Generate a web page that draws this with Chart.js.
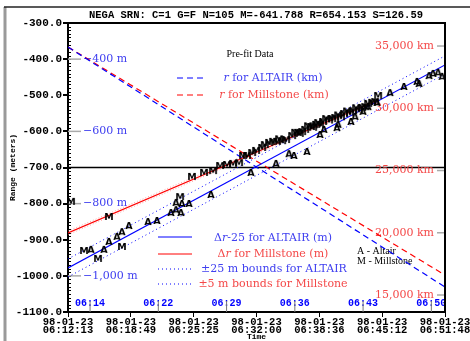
<!DOCTYPE html>
<html>
<head>
<meta charset="utf-8">
<script src="https://cdn.jsdelivr.net/npm/chart.js@4.4.1/dist/chart.umd.min.js"></script>
<style>
  body { margin: 0; background: #fff; }
  #wrap { width: 470px; height: 341px; }
</style>
</head>
<body>
<div id="wrap"><canvas id="myChart" width="470" height="341"></canvas></div>
<script>
// time axis: seconds after 06:12:13
const tickDate = "98-01-23";
const xTickLabels = ["06:12:13", "06:18:49", "06:25:25", "06:32:00", "06:38:36", "06:45:12", "06:51:48"];
const xSpan = 2375;
const blueTickT = [139, 569, 999, 1429, 1859, 2289];
const blueTickLabels = ["06:14", "06:22", "06:29", "06:36", "06:43", "06:50"];

const mLabelValues = [-400, -600, -800, -1000];
const mLabels = ["\u2212400 m", "\u2212600 m", "\u2212800 m", "\u22121,000 m"];
const kmLabelValues = [35000, 30000, 25000, 20000, 15000];
const kmLabels = ["35,000 km", "30,000 km", "25,000 km", "20,000 km", "15,000 km"];

// range in km
const altairKmT = [0, 2375];
const altairKm = [34920, 15640];
const millKmT = [0, 2375];
const millKm = [34920, 16600];

// fitted residual lines (m)
const altairFitT = [0, 2375];
const altairFit = [-978, -416];
const millFitT = [0, 1954];
const millFit = [-881, -513];
const altairBound = 25;
const millBound = 5;

// pre-fit data
const millT = [19, 101, 189, 258, 340, 706, 781, 857, 914, 958, 1002, 1040, 1078, 1103, 1128, 1160, 1185, 1223, 1240, 1267, 1292, 1317, 1330, 1349, 1374, 1412, 1431, 1449, 1460, 1475, 1494, 1512, 1531, 1544, 1563, 1576, 1588, 1607, 1626, 1645, 1664, 1683, 1702, 1720, 1739, 1758, 1777, 1796, 1815, 1834, 1853, 1872, 1891, 1916, 1935, 1954];
const millR = [-795, -931, -953, -837, -920, -782, -726, -715, -710, -696, -693, -690, -688, -668, -668, -660, -654, -646, -638, -632, -629, -629, -622, -627, -624, -613, -604, -604, -607, -602, -596, -586, -588, -590, -582, -577, -583, -574, -566, -570, -566, -563, -556, -561, -552, -545, -550, -544, -536, -542, -535, -533, -524, -521, -519, -502];
const altT = [145, 227, 258, 309, 340, 384, 504, 561, 649, 681, 712, 681, 718, 763, 901, 1153, 1311, 1393, 1424, 1506, 1588, 1613, 1695, 1702, 1783, 1809, 1859, 1891, 1947, 2029, 2117, 2199, 2212, 2275, 2300, 2332, 2357];
const altR = [-928, -928, -906, -892, -879, -862, -851, -848, -826, -818, -826, -798, -801, -801, -776, -715, -690, -663, -668, -657, -610, -596, -591, -582, -574, -560, -546, -533, -521, -494, -477, -463, -469, -447, -441, -438, -449];

const blue = "#0000ff";
const red = "#ff0000";
const blueText = "#4040f0";
const redText = "#f44848";
const mono = "'Liberation Mono', monospace";
const serif = "'DejaVu Serif', serif";

const pts = (xs, ys) => xs.map((x, i) => ({ x: x, y: ys[i] }));
const shift = (xs, ys, d) => xs.map((x, i) => ({ x: x, y: ys[i] + d }));

function letterImg(ch) {
  const c = document.createElement("canvas");
  c.width = 10; c.height = 10;
  const g = c.getContext("2d");
  g.font = "bold 9.5px 'DejaVu Sans'";
  g.textAlign = "center";
  g.textBaseline = "middle";
  g.fillStyle = "#000";
  g.fillText(ch, 5, 5.5);
  return c;
}

function lineSet(data, color, dash, width, axis) {
  return {
    data: data, showLine: true, borderColor: color, borderWidth: width || 1,
    borderDash: dash || [], pointRadius: 0, yAxisID: axis || "y", fill: false
  };
}

function richText(ctx, parts, cx, y, color) {
  let w = 0;
  parts.forEach(p => { ctx.font = (p[1] || "") + " 11px " + serif; w += ctx.measureText(p[0]).width; });
  let x = cx - w / 2;
  ctx.fillStyle = color;
  ctx.textAlign = "left";
  ctx.textBaseline = "middle";
  parts.forEach(p => { ctx.font = (p[1] || "") + " 11px " + serif; ctx.fillText(p[0], x, y); x += ctx.measureText(p[0]).width; });
}

function sample(ctx, x1, x2, y, color, dash) {
  ctx.save();
  ctx.strokeStyle = color;
  ctx.lineWidth = 1;
  ctx.setLineDash(dash);
  ctx.beginPath(); ctx.moveTo(x1, y); ctx.lineTo(x2, y); ctx.stroke();
  ctx.restore();
}

const decor = {
  id: "decor",
  beforeDatasetsDraw(chart) {
    const { ctx, chartArea: a, scales } = chart;
    const y = scales.y, yk = scales.yk, x = scales.x;
    ctx.save();
    // minor ticks on left axis
    ctx.strokeStyle = "#000"; ctx.lineWidth = 1;
    for (let v = -1100; v <= -300; v += 10) {
      const py = Math.round(y.getPixelForValue(v)) + 0.5;
      ctx.beginPath(); ctx.moveTo(a.left, py); ctx.lineTo(a.left + 3, py); ctx.stroke();
    }
    // -700 line
    ctx.lineWidth = 1.6;
    ctx.beginPath(); ctx.moveTo(a.left, y.getPixelForValue(-700)); ctx.lineTo(a.right, y.getPixelForValue(-700)); ctx.stroke();

    // metre labels
    ctx.font = "11px " + serif;
    ctx.textBaseline = "middle";
    mLabelValues.forEach((v, i) => {
      const py = y.getPixelForValue(v);
      ctx.strokeStyle = "#aaa"; ctx.lineWidth = 1.5;
      ctx.beginPath(); ctx.moveTo(a.left, py); ctx.lineTo(a.left + 13, py); ctx.stroke();
      ctx.fillStyle = blueText; ctx.textAlign = "left";
      ctx.fillText(mLabels[i], a.left + 15, py);
    });
    // km labels
    kmLabelValues.forEach((v, i) => {
      const py = yk.getPixelForValue(v);
      ctx.strokeStyle = "#aaa"; ctx.lineWidth = 1.5;
      ctx.beginPath(); ctx.moveTo(a.right - 8, py); ctx.lineTo(a.right, py); ctx.stroke();
      ctx.fillStyle = redText; ctx.textAlign = "right";
      ctx.fillText(kmLabels[i], a.right - 11, py);
    });
    // blue time labels
    ctx.font = "bold 10px " + mono;
    blueTickT.forEach((t, i) => {
      const px = x.getPixelForValue(t);
      ctx.fillStyle = blue; ctx.textAlign = "center";
      ctx.fillText(blueTickLabels[i], px, a.bottom - 9);
      ctx.strokeStyle = "#777"; ctx.lineWidth = 1;
      ctx.beginPath(); ctx.moveTo(px, a.bottom - 11); ctx.lineTo(px, a.bottom); ctx.stroke();
    });

    // legend texts
    ctx.fillStyle = "#000"; ctx.textAlign = "center";
    ctx.font = "10px 'Liberation Serif'";
    ctx.fillText("Pre-fit Data", 250, 54);
    ctx.textAlign = "left";
    ctx.fillText("A - Altair", 357, 251);
    ctx.fillText("M - Millstone", 357, 261);

    sample(ctx, 177, 205, 78, blue, [6, 4]);
    sample(ctx, 177, 205, 95, red, [6, 4]);
    richText(ctx, [["r", "italic"], [" for ALTAIR (km)"]], 273, 78, blueText);
    richText(ctx, [["r", "italic"], [" for Millstone (km)"]], 274, 95, redText);

    sample(ctx, 158, 192, 237, blue, []);
    sample(ctx, 158, 192, 254, red, []);
    sample(ctx, 158, 192, 269, blue, [1, 3]);
    sample(ctx, 158, 192, 284, blue, [1, 3]);
    richText(ctx, [["\u0394"], ["r", "italic"], ["-25 for ALTAIR (m)"]], 273, 238, blueText);
    richText(ctx, [["\u0394"], ["r", "italic"], [" for Millstone (m)"]], 273, 254, redText);
    richText(ctx, [["\u00b125 m bounds for ALTAIR"]], 274, 269, blueText);
    richText(ctx, [["\u00b15 m bounds for Millstone"]], 273, 284, redText);
    ctx.restore();
  },
  afterDraw(chart) {
    const { ctx, chartArea: a } = chart;
    ctx.save();
    ctx.strokeStyle = "#000"; ctx.lineWidth = 2;
    ctx.beginPath();
    ctx.moveTo(a.left, a.top); ctx.lineTo(a.right, a.top); ctx.lineTo(a.right, a.bottom);
    ctx.stroke();
    // outer frame
    ctx.strokeStyle = "#9a9a9a"; ctx.lineWidth = 3;
    ctx.beginPath(); ctx.moveTo(5, 7); ctx.lineTo(5, 341); ctx.stroke();
    ctx.strokeStyle = "#222"; ctx.lineWidth = 1.5;
    ctx.beginPath(); ctx.moveTo(4, 7); ctx.lineTo(470, 7); ctx.stroke();
    // title
    ctx.fillStyle = "#000"; ctx.textAlign = "center"; ctx.textBaseline = "middle";
    ctx.font = "bold 10.5px " + mono;
    ctx.fillText("NEGA SRN: C=1 G=F N=105 M=-641.788 R=654.153 S=126.59", 256, 15);
    ctx.font = "bold 8px " + mono;
    ctx.fillText("Time", (a.left + a.right) / 2, 337);
    ctx.translate(13, (a.top + a.bottom) / 2);
    ctx.rotate(-Math.PI / 2);
    ctx.fillText("Range (meters)", 0, 0);
    ctx.restore();
  }
};

const imgA = letterImg("A");
const imgM = letterImg("M");

const data = {
  datasets: [
    { data: pts(altT, altR), pointStyle: imgA, pointRadius: 4, showLine: false },
    { data: pts(millT, millR), pointStyle: imgM, pointRadius: 4, showLine: false },
    lineSet(pts(altairFitT, altairFit), blue, [], 1.2),
    lineSet(pts(millFitT, millFit), red, [], 1.2),
    lineSet(shift(altairFitT, altairFit, altairBound), blue, [1, 3], 1),
    lineSet(shift(altairFitT, altairFit, -altairBound), blue, [1, 3], 1),
    lineSet(shift(millFitT, millFit, millBound), "rgba(255,90,90,0.55)", [1, 2], 1),
    lineSet(shift(millFitT, millFit, -millBound), "rgba(255,90,90,0.55)", [1, 2], 1),
    lineSet(pts(altairKmT, altairKm), blue, [6, 4], 1.2, "yk"),
    lineSet(pts(millKmT, millKm), red, [6, 4], 1.2, "yk")
  ]
};

const config = {
  type: "scatter",
  data: data,
  plugins: [decor],
  options: {
    responsive: false,
    animation: false,
    layout: { padding: { left: 0, right: 25, top: 23, bottom: 0 } },
    plugins: { legend: { display: false }, tooltip: { enabled: false } },
    scales: {
      x: {
        type: "linear",
        min: 0,
        max: xSpan,
        afterBuildTicks: (s) => { s.ticks = xTickLabels.map((_, i) => ({ value: i * xSpan / 6 })); },
        afterFit: (s) => { s.height = 29; s.paddingLeft = 0; s.paddingRight = 0; },
        ticks: {
          autoSkip: false,
          maxRotation: 0,
          padding: 2,
          color: "#000",
          font: { family: mono, size: 10.5, weight: "bold", lineHeight: 0.7 },
          callback: (v, i) => [tickDate, xTickLabels[i]]
        },
        grid: { drawOnChartArea: false, tickLength: 5, color: "#000" },
        border: { color: "#000", width: 2 }
      },
      y: {
        min: -1100,
        max: -300,
        afterFit: (s) => { s.width = 68; s.paddingTop = 0; s.paddingBottom = 0; },
        ticks: {
          stepSize: 100,
          padding: 1,
          color: "#000",
          font: { family: mono, size: 11, weight: "bold" },
          callback: (v) => v.toFixed(1)
        },
        grid: { drawOnChartArea: false, tickLength: 5, color: "#000", lineWidth: 2 },
        border: { color: "#000", width: 2 }
      },
      yk: {
        display: false,
        min: 13635,
        max: 36850
      }
    }
  }
};

new Chart(document.getElementById("myChart"), config);
</script>
</body>
</html>
